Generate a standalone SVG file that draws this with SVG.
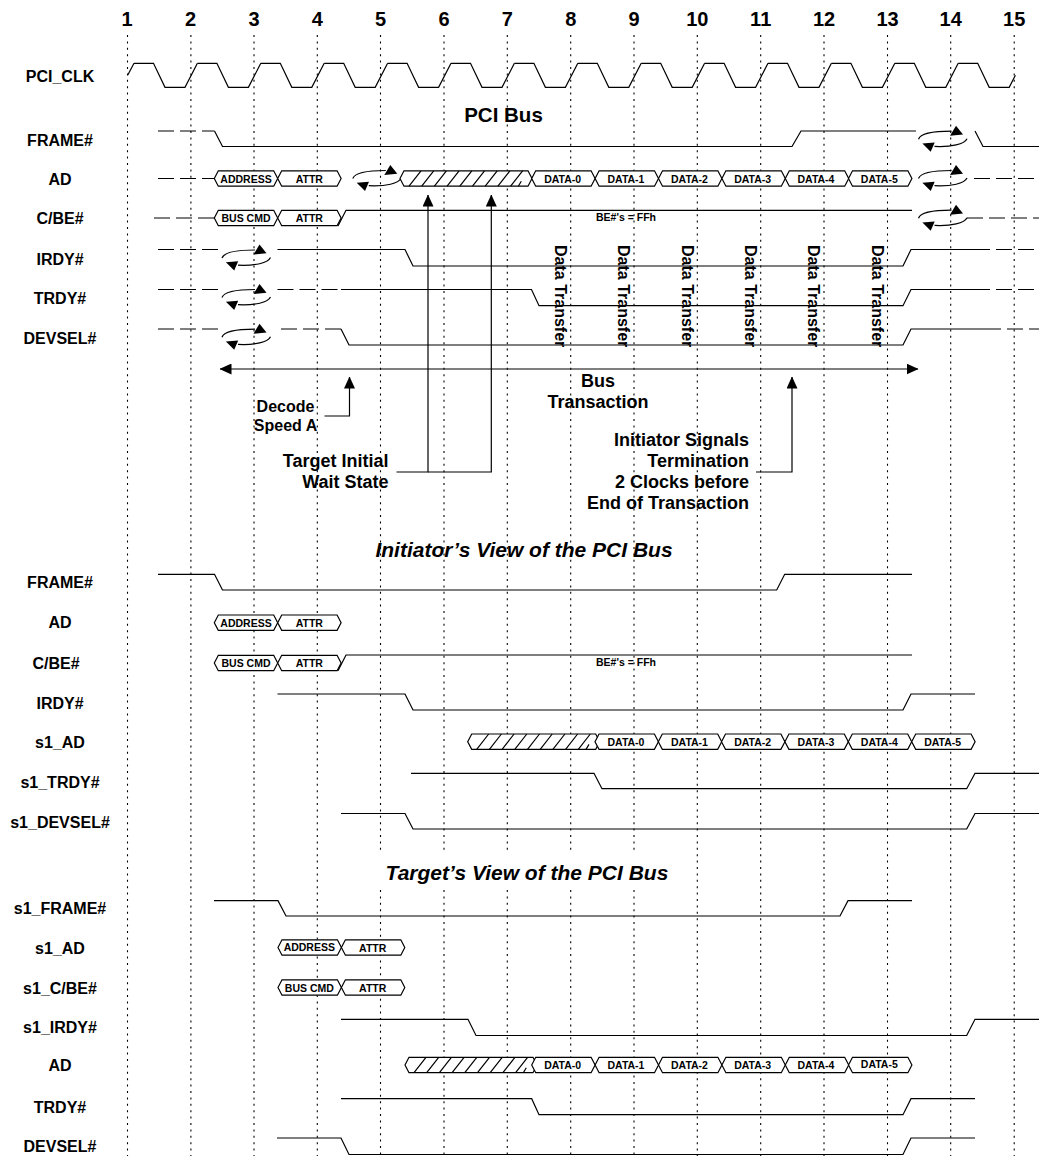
<svg xmlns="http://www.w3.org/2000/svg" width="1039" height="1156" viewBox="0 0 1039 1156">
<style>
text{font-family:"Liberation Sans",Arial,sans-serif;font-weight:700;fill:#000}
.num{font-size:20px;text-anchor:middle}
.lbl{font-size:16px;text-anchor:middle}
.ann{font-size:16px}
.big{font-size:18px}
.mid{text-anchor:middle}
.end{text-anchor:end}
.ttl{font-size:21px;text-anchor:middle;font-style:italic}
.hx{font-size:10.5px;text-anchor:middle}
.grid{stroke:#000;stroke-width:1.1;stroke-dasharray:2 4.4;fill:none}
.s{stroke:#000;stroke-width:1.2;fill:none}
.d{stroke:#000;stroke-width:1.2;fill:none;stroke-dasharray:16 6}
.b{stroke:#000;stroke-width:1.2;fill:#fff}
.a{stroke:#000;stroke-width:1.2;fill:none}
</style>
<defs>
<polygon id="hex" class="b" points="0,0 4,-7.700 59.400,-7.700 63.400,0 59.400,7.700 4,7.700"/>
<path id="period" class="s" d="M0 0h19.500l11.500 24h20l12.400-24"/>
<g id="hatch">
<polygon class="b" points="0,0 4,-7.700 128,-7.700 132,0 128,7.700 4,7.700"/>
<path class="s" d="M9 7.700l12-15.400m.7 15.400l12-15.400m.7 15.400l12-15.400m.7 15.400l12-15.400m.7 15.400l12-15.400m.7 15.400l12-15.400m.7 15.400l12-15.400m.7 15.400l12-15.400m.7 15.400l12-15.400m-4.300 15.400l3-5"/>
</g>
<g id="loop">
<path class="s" d="M0 8.500C2 2.500 18 .5 33 .5"/>
<polygon points="37.500,-5 44.500,3.800 31.500,5"/>
<path class="s" d="M48.500 8C46 13.500 33 16.500 16 15.700"/>
<polygon points="3.900,12.700 16.200,11.700 12.200,21"/>
</g>
<marker id="head" viewBox="0 0 12 11" refX="11.500" refY="5.500" markerWidth="12" markerHeight="11" markerUnits="userSpaceOnUse" orient="auto-start-reverse"><polygon points="0,0 12,5.500 0,11"/></marker>
</defs>
<rect width="1039" height="1156" fill="#fff"/>

<g id="grid">
<path class="grid" d="M127.500 35V1156M190.900 35V1156M254 35V1156M317.300 35V1156"/>
<path class="grid" d="M380.500 35V852M380.500 890V1156M444 35V852M444 890V1156M507.300 35V852M507.300 890V1156M570.700 35V852M570.700 890V1156M634 35V852M634 890V1156"/>
<path class="grid" d="M697.300 35V1156M760.700 35V1156M824 35V1156M887.500 35V1156M950.700 35V1156M1014.200 35V1156"/>
</g>

<g id="clock-numbers">
<text class="num" x="127" y="26">1</text><text class="num" x="190.500" y="26">2</text><text class="num" x="254" y="26">3</text><text class="num" x="317.300" y="26">4</text><text class="num" x="380.500" y="26">5</text><text class="num" x="444" y="26">6</text><text class="num" x="507.300" y="26">7</text><text class="num" x="570.700" y="26">8</text><text class="num" x="634" y="26">9</text><text class="num" x="697.300" y="26">10</text><text class="num" x="760.700" y="26">11</text><text class="num" x="824" y="26">12</text><text class="num" x="887.500" y="26">13</text><text class="num" x="950.700" y="26">14</text><text class="num" x="1014.200" y="26">15</text>
</g>

<g id="pci-clk">
<text class="lbl" x="60" y="82">PCI_CLK</text>
<path class="s" d="M127.800 75L134 63.300"/>
<use href="#period" x="134" y="63.300"/><use href="#period" x="197.400" y="63.300"/><use href="#period" x="260.800" y="63.300"/><use href="#period" x="324.200" y="63.300"/><use href="#period" x="387.600" y="63.300"/><use href="#period" x="451" y="63.300"/><use href="#period" x="514.400" y="63.300"/><use href="#period" x="577.800" y="63.300"/><use href="#period" x="641.200" y="63.300"/><use href="#period" x="704.600" y="63.300"/><use href="#period" x="768" y="63.300"/><use href="#period" x="831.400" y="63.300"/><use href="#period" x="894.800" y="63.300"/>
<path class="s" d="M958.200 63.300h19.500l11.500 24h20l6.200-12"/>
</g>

<text class="lbl" id="title-pci-bus" x="503.500" y="122" style="font-size:20.500px">PCI Bus</text>

<g id="frame-1">
<text class="lbl" x="60" y="146">FRAME#</text>
<path class="d" d="M158 131H214.500"/>
<path class="s" d="M214.500 131L222.500 146.500H792L801 131H916"/>
<use href="#loop" x="918.500" y="130.700"/>
<path class="s" d="M975 131L983 146.500H1039"/>
</g>
<g id="ad-1">
<text class="lbl" x="60" y="185">AD</text>
<path class="d" d="M158 178.500H214"/>
<use href="#hex" x="214.300" y="178.500"/><use href="#hex" x="277.700" y="178.500"/>
<text class="hx" x="246" y="182.500">ADDRESS</text><text class="hx" x="309.300" y="182.500">ATTR</text>
<use href="#loop" x="352.800" y="170"/>
<use href="#hatch" x="400" y="178.500"/>
<use href="#hex" x="531.700" y="178.500"/><use href="#hex" x="595.100" y="178.500"/><use href="#hex" x="658.500" y="178.500"/><use href="#hex" x="721.900" y="178.500"/><use href="#hex" x="785.300" y="178.500"/><use href="#hex" x="848.500" y="178.500"/>
<text class="hx" x="562.700" y="182.500">DATA-0</text><text class="hx" x="626" y="182.500">DATA-1</text><text class="hx" x="689.500" y="182.500">DATA-2</text><text class="hx" x="752.700" y="182.500">DATA-3</text><text class="hx" x="816" y="182.500">DATA-4</text><text class="hx" x="879.300" y="182.500">DATA-5</text>
<use href="#loop" x="918.500" y="170"/>
<path class="d" d="M974 178.500H1039"/>
</g>
<g id="cbe-1">
<text class="lbl" x="60" y="224">C/BE#</text>
<path class="d" d="M154 218H214"/>
<use href="#hex" x="214.300" y="218"/><use href="#hex" x="277.700" y="218"/>
<path class="s" d="M338 226L346 210.300H912"/>
<text class="hx" x="246" y="222">BUS CMD</text><text class="hx" x="309.300" y="222">ATTR</text>
<text class="hx" x="626" y="220.700">BE#'s = FFh</text>
<use href="#loop" x="918.500" y="209.700"/>
<path class="d" d="M967 218H1039"/>
</g>
<g id="irdy-1">
<text class="lbl" x="60" y="265">IRDY#</text>
<path class="d" d="M158 249.500H220"/>
<use href="#loop" x="222" y="249.500"/>
<path class="s" d="M277.500 249.500H405L413 266H903L911 249.500H974"/>
<path class="d" d="M974 249.500H1039"/>
</g>
<g id="trdy-1">
<text class="lbl" x="60" y="304">TRDY#</text>
<path class="d" d="M158 289.500H220"/>
<use href="#loop" x="222" y="289"/>
<path class="d" d="M277.500 289.500H341"/>
<path class="s" d="M341 289.500H531.500L539 305.700H903L911 289.500H974"/>
<path class="d" d="M974 289.500H1039"/>
</g>
<g id="devsel-1">
<text class="lbl" x="60" y="344">DEVSEL#</text>
<path class="d" d="M158 329H220"/>
<use href="#loop" x="222" y="328.700"/>
<path class="d" d="M281 329H341"/>
<path class="s" d="M341 329L349 345H903L911 329H985"/>
<path class="d" d="M985 329H1039"/>
</g>

<g id="data-transfer">
<text class="ann" transform="translate(555 245) rotate(90)">Data Transfer</text>
<text class="ann" transform="translate(618.300 245) rotate(90)">Data Transfer</text>
<text class="ann" transform="translate(681.700 245) rotate(90)">Data Transfer</text>
<text class="ann" transform="translate(745 245) rotate(90)">Data Transfer</text>
<text class="ann" transform="translate(808 245) rotate(90)">Data Transfer</text>
<text class="ann" transform="translate(871.700 245) rotate(90)">Data Transfer</text>
</g>

<g id="connectors">
<path class="a" d="M220 369H918" marker-start="url(#head)" marker-end="url(#head)"/>
<path class="a" d="M324.500 416H349.500V377" marker-end="url(#head)"/>
<path class="a" d="M396.500 472H428V195" marker-end="url(#head)"/>
<path class="a" d="M428 472H491.300V195" marker-end="url(#head)"/>
<path class="a" d="M756 472H792V377" marker-end="url(#head)"/>
</g>

<g id="annotations">
<text class="big mid" x="598" y="386.700">Bus</text>
<text class="big mid" x="598" y="408">Transaction</text>
<text class="ann mid" x="285.500" y="411.700">Decode</text>
<text class="ann mid" x="285.500" y="430.500">Speed A</text>
<text class="big end" x="388.500" y="466.700">Target Initial</text>
<text class="big end" x="388.500" y="487.700">Wait State</text>
<text class="big end" x="749" y="446">Initiator Signals</text>
<text class="big end" x="749" y="467">Termination</text>
<text class="big end" x="749" y="488">2 Clocks before</text>
<text class="big end" x="749" y="509">End of Transaction</text>
</g>

<text class="ttl" id="title-initiator" x="524" y="557">Initiator’s View of the PCI Bus</text>

<g id="frame-2">
<text class="lbl" x="60" y="588">FRAME#</text>
<path class="s" d="M158 574.300H214.500L222.500 590H776.700L784.700 574.300H912"/>
</g>
<g id="ad-2">
<text class="lbl" x="60" y="628">AD</text>
<use href="#hex" x="214.300" y="622.700"/><use href="#hex" x="277.700" y="622.700"/>
<text class="hx" x="246" y="626.700">ADDRESS</text><text class="hx" x="309.300" y="626.700">ATTR</text>
</g>
<g id="cbe-2">
<text class="lbl" x="56" y="669">C/BE#</text>
<use href="#hex" x="214.300" y="663"/><use href="#hex" x="277.700" y="663"/>
<path class="s" d="M338 670.700L346 655H912"/>
<text class="hx" x="246" y="667">BUS CMD</text><text class="hx" x="309.300" y="667">ATTR</text>
<text class="hx" x="626" y="665.500">BE#'s = FFh</text>
</g>
<g id="irdy-2">
<text class="lbl" x="60" y="709">IRDY#</text>
<path class="s" d="M277.500 694H405L413 710H903L911 694H975"/>
</g>
<g id="s1-ad-2">
<text class="lbl" x="60" y="748">s1_AD</text>
<use href="#hatch" x="467.700" y="741.700"/>
<use href="#hex" x="595" y="741.700"/><use href="#hex" x="658.300" y="741.700"/><use href="#hex" x="721.500" y="741.700"/><use href="#hex" x="784.900" y="741.700"/><use href="#hex" x="848.300" y="741.700"/><use href="#hex" x="911.700" y="741.700"/>
<text class="hx" x="626" y="745.700">DATA-0</text><text class="hx" x="689.500" y="745.700">DATA-1</text><text class="hx" x="752.700" y="745.700">DATA-2</text><text class="hx" x="816" y="745.700">DATA-3</text><text class="hx" x="879.300" y="745.700">DATA-4</text><text class="hx" x="942.700" y="745.700">DATA-5</text>
</g>
<g id="s1-trdy-2">
<text class="lbl" x="60" y="788">s1_TRDY#</text>
<path class="s" d="M411 773.300H594L602 788.700H966.700L975 773.300H1039"/>
</g>
<g id="s1-devsel-2">
<text class="lbl" x="60" y="828">s1_DEVSEL#</text>
<path class="s" d="M341 813.500H405L413 829H966.700L975 813.500H1039"/>
</g>

<text class="ttl" id="title-target" x="527" y="880">Target’s View of the PCI Bus</text>

<g id="s1-frame-3">
<text class="lbl" x="60" y="914">s1_FRAME#</text>
<path class="s" d="M214 900.700H278L286 916H840L848 900.700H912"/>
</g>
<g id="s1-ad-3">
<text class="lbl" x="60" y="954">s1_AD</text>
<use href="#hex" x="278" y="947.500"/><use href="#hex" x="341.400" y="947.500"/>
<text class="hx" x="309.300" y="951">ADDRESS</text><text class="hx" x="372.700" y="952">ATTR</text>
</g>
<g id="s1-cbe-3">
<text class="lbl" x="60" y="994">s1_C/BE#</text>
<use href="#hex" x="278" y="987.500"/><use href="#hex" x="341.400" y="987.500"/>
<text class="hx" x="309.300" y="991.500">BUS CMD</text><text class="hx" x="372.700" y="991.500">ATTR</text>
</g>
<g id="s1-irdy-3">
<text class="lbl" x="60" y="1033">s1_IRDY#</text>
<path class="s" d="M341 1019.300H468L476 1035.500H966.700L975 1019.300H1039"/>
</g>
<g id="ad-3">
<text class="lbl" x="60" y="1071">AD</text>
<use href="#hatch" x="405" y="1065"/>
<use href="#hex" x="531.700" y="1065"/><use href="#hex" x="595.100" y="1065"/><use href="#hex" x="658.500" y="1065"/><use href="#hex" x="721.900" y="1065"/><use href="#hex" x="785.300" y="1065"/><use href="#hex" x="848.500" y="1065"/>
<text class="hx" x="562.700" y="1069">DATA-0</text><text class="hx" x="626" y="1069">DATA-1</text><text class="hx" x="689.500" y="1069">DATA-2</text><text class="hx" x="752.700" y="1069">DATA-3</text><text class="hx" x="816" y="1069">DATA-4</text><text class="hx" x="879.300" y="1068">DATA-5</text>
</g>
<g id="trdy-3">
<text class="lbl" x="60" y="1113">TRDY#</text>
<path class="s" d="M341 1098.700H531.700L539 1114.700H903L911 1098.700H975"/>
</g>
<g id="devsel-3">
<text class="lbl" x="60" y="1152">DEVSEL#</text>
<path class="s" d="M277 1138H341L349 1154.500H903L911 1138H975"/>
</g>
</svg>
